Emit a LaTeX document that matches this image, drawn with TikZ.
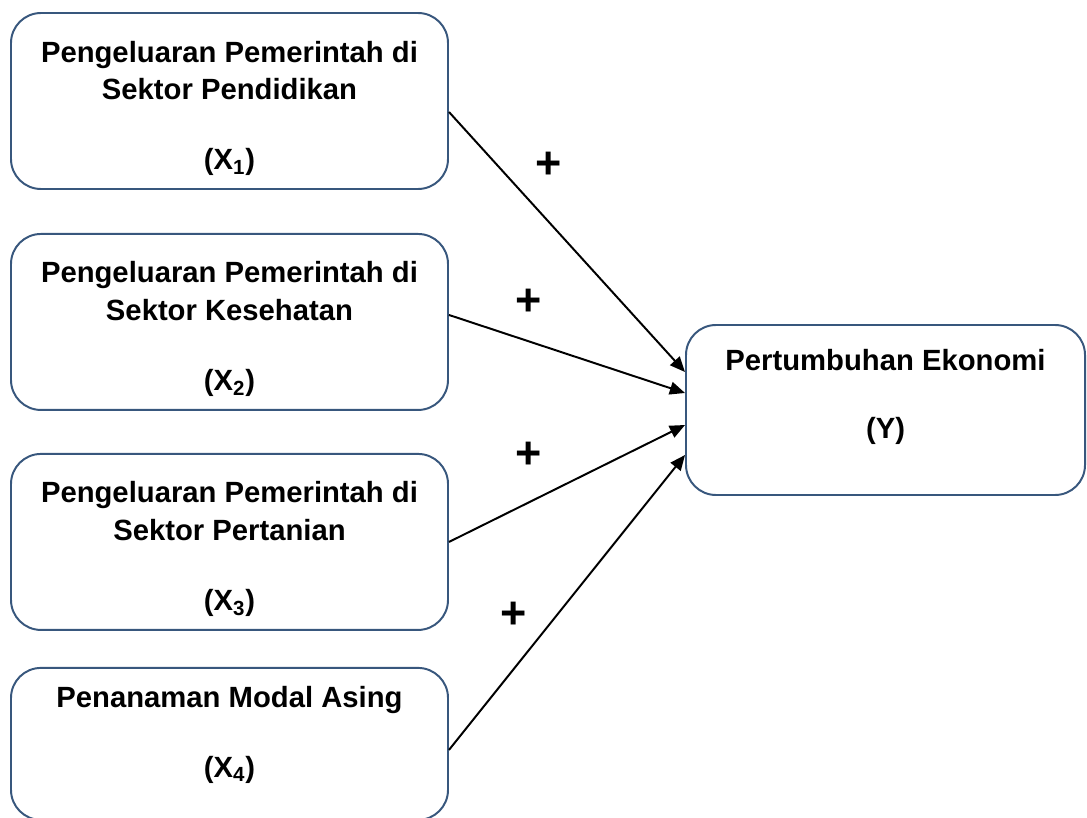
\documentclass[tikz,border=0pt]{standalone}
\usepackage{fontspec}
\setmainfont{Liberation Sans}
\usetikzlibrary{positioning,arrows.meta}
\definecolor{boxblue}{RGB}{56,87,125}
\newcommand{\topgap}{\rule{0pt}{0.9cm}}

\begin{document}
\begin{tikzpicture}[>={Triangle[length=0.38cm,width=0.32cm]},
  var/.style={draw=boxblue,line width=1.4pt,rounded corners=0.75cm,
    minimum width=10.925cm,minimum height=4.4cm,align=center,
    font=\fontsize{20.8}{27}\selectfont\bfseries},
  sign/.style={font=\fontsize{32}{32}\selectfont\bfseries}]
\useasboundingbox (0,0) rectangle (27.175,20.425);
\node[var] (x1) at (5.7375,17.9) {\topgap Pengeluaran Pemerintah di\\Sektor Pendidikan\\[0.8cm](X\textsubscript{1})};
\node[var,below=1.075cm of x1] (x2) {\topgap Pengeluaran Pemerintah di\\Sektor Kesehatan\\[0.8cm](X\textsubscript{2})};
\node[var,below=1.05cm of x2] (x3) {\topgap Pengeluaran Pemerintah di\\Sektor Pertanian\\[0.8cm](X\textsubscript{3})};
\node[var,below=0.9cm of x3,minimum height=3.8cm,text depth=0.6cm] (x4) {Penanaman Modal Asing\\[0.8cm](X\textsubscript{4})};
\node[var,minimum width=9.975cm,minimum height=4.25cm,text depth=0.825cm] (y) at (22.1375,10.175) {Pertumbuhan Ekonomi\\[0.75cm](Y)};
% tanda pengaruh
\node[sign] (p1) at (13.725,16.3) {+};
\node[sign] (p2) at (13.225,12.875) {+};
\node[sign] (p3) at (13.225,9.05) {+};
\node[sign] (p4) at (12.85,5.05) {+};
\draw[->,line width=1.4pt] ([yshift=-0.275cm]x1.east) -- ([yshift=0.95cm]y.west);
\draw[->,line width=1.4pt] ([yshift=0.175cm]x2.east) -- ([yshift=0.425cm]y.west);
\draw[->,line width=1.4pt] (x3.east) -- ([yshift=-0.375cm]y.west);
\draw[->,line width=1.4pt] ([yshift=-0.15cm]x4.east) -- ([yshift=-1.125cm]y.west);
\end{tikzpicture}
\end{document}
